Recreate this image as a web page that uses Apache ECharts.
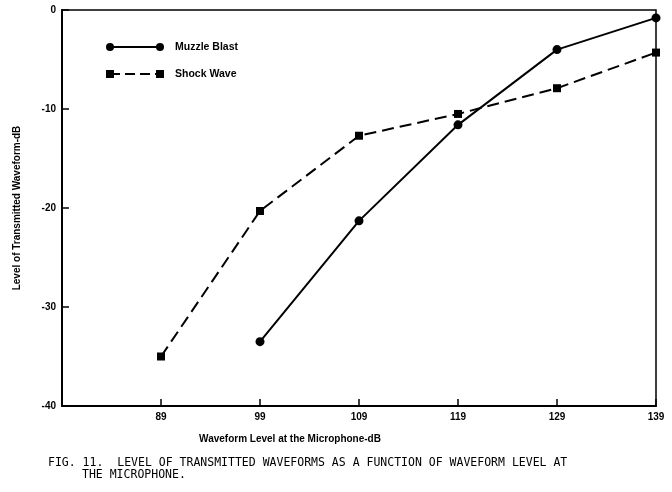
<!DOCTYPE html>
<html>
<head>
<meta charset="utf-8">
<script src="https://cdn.jsdelivr.net/npm/echarts@6/dist/echarts.min.js"></script>
<style>html,body{margin:0;padding:0;background:#fff}#c{width:672px;height:492px}</style>
</head>
<body>
<div id="c"></div>
<script>
const xLevels = [89, 99, 109, 119, 129, 139];
const muzzleBlast = [null, -33.5, -21.3, -11.6, -4.0, -0.8];
const shockWave = [-35.0, -20.3, -12.7, -10.5, -7.9, -4.3];
const seriesNames = ['Muzzle Blast', 'Shock Wave'];
const xTitle = 'Waveform Level at the Microphone-dB';
const yTitle = 'Level of Transmitted Waveform-dB';
const caption1 = 'FIG. 11.  LEVEL OF TRANSMITTED WAVEFORMS AS A FUNCTION OF WAVEFORM LEVEL AT';
const caption2 = 'THE MICROPHONE.';

const pair = arr => xLevels.map((x, i) => arr[i] === null ? null : [x, arr[i]]).filter(d => d);

const chart = echarts.init(document.getElementById('c'), null, {renderer: 'canvas'});
const font = 'Liberation Sans, Arial, sans-serif';
chart.setOption({
  animation: false,
  backgroundColor: '#fff',
  grid: {left: 62, right: 16, top: 10, bottom: 86, show: true, borderColor: '#000', borderWidth: 1.5},
  xAxis: {
    type: 'value', min: 79, max: 139, interval: 10, position: 'bottom',
    axisLine: {onZero: false, lineStyle: {color: '#000', width: 2}},
    axisTick: {show: true, inside: false, length: -7, lineStyle: {color: '#000', width: 1.5}},
    splitLine: {show: false},
    axisLabel: {inside: false, color: '#000', fontFamily: font, fontWeight: 'bold', fontSize: 10, margin: 6,
      formatter: v => (v === 79 ? '' : String(v))},
    name: xTitle, nameLocation: 'middle', nameGap: 28,
    nameTextStyle: {color: '#000', fontFamily: font, fontWeight: 'bold', fontSize: 10, padding: [0, 138, 0, 0]}
  },
  yAxis: {
    type: 'value', min: -40, max: 0, interval: 10, position: 'left',
    axisLine: {onZero: false, lineStyle: {color: '#000', width: 2}},
    axisTick: {show: true, inside: false, length: -7, lineStyle: {color: '#000', width: 1.5}},
    splitLine: {show: false},
    axisLabel: {inside: false, color: '#000', fontFamily: font, fontWeight: 'bold', fontSize: 10, margin: 6},
    name: yTitle, nameLocation: 'middle', nameGap: 40,
    nameTextStyle: {color: '#000', fontFamily: font, fontWeight: 'bold', fontSize: 10}
  },
  series: [
    {name: seriesNames[0], type: 'line', data: pair(muzzleBlast), symbol: 'circle', symbolSize: 9,
      lineStyle: {color: '#000', width: 2}, itemStyle: {color: '#000'}},
    {name: seriesNames[1], type: 'line', data: pair(shockWave), symbol: 'rect', symbolSize: 8,
      lineStyle: {color: '#000', width: 2, type: [12, 6]}, itemStyle: {color: '#000'}}
  ],
  graphic: [
    {type: 'line', shape: {x1: 110, y1: 47, x2: 160, y2: 47}, style: {stroke: '#000', lineWidth: 2}},
    {type: 'circle', shape: {cx: 110, cy: 47, r: 4}, style: {fill: '#000'}},
    {type: 'circle', shape: {cx: 160, cy: 47, r: 4}, style: {fill: '#000'}},
    {type: 'text', left: 175, top: 42, style: {text: seriesNames[0], fill: '#000', font: 'bold 10.5px ' + font}},
    {type: 'line', shape: {x1: 110, y1: 74, x2: 160, y2: 74}, style: {stroke: '#000', lineWidth: 2, lineDash: [10, 5]}},
    {type: 'rect', shape: {x: 106, y: 70, width: 8, height: 8}, style: {fill: '#000'}},
    {type: 'rect', shape: {x: 156, y: 70, width: 8, height: 8}, style: {fill: '#000'}},
    {type: 'text', left: 175, top: 69, style: {text: seriesNames[1], fill: '#000', font: 'bold 10.5px ' + font}},
    {type: 'text', left: 48, top: 457, style: {text: caption1, fill: '#000', font: '11.5px DejaVu Sans Mono, monospace'}},
    {type: 'text', left: 82, top: 469, style: {text: caption2, fill: '#000', font: '11.5px DejaVu Sans Mono, monospace'}}
  ]
});
</script>
</body>
</html>
